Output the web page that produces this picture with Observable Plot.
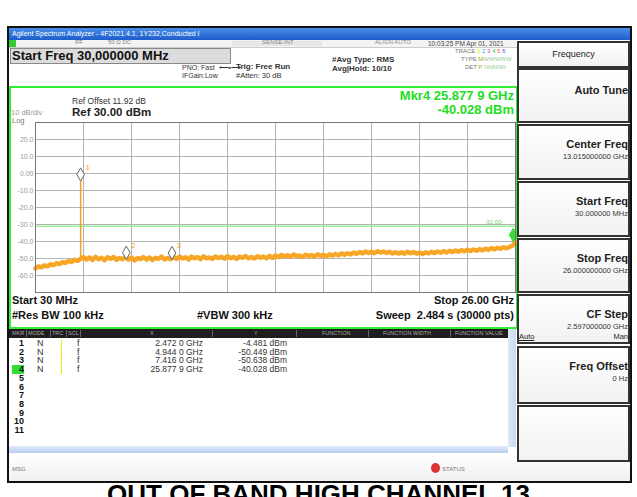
<!DOCTYPE html>
<html><head><meta charset="utf-8">
<script src="https://cdn.jsdelivr.net/npm/d3@7"></script>
<script src="https://cdn.jsdelivr.net/npm/@observablehq/plot@0.6"></script>
<style>
body{margin:0;background:#fff;}
#root{position:relative;width:637px;height:497px;overflow:hidden;font-family:"Liberation Sans",Arial,sans-serif;color:#111;}
.a{position:absolute;white-space:nowrap;}
.s{font-size:7px;color:#333;}
.g{color:#888;}
.b{font-weight:bold;}
.box{position:absolute;border:2px solid #333;background:linear-gradient(#fff,#f2f2f2);box-sizing:border-box;}
</style></head>
<body><div id="root"></div>
<script>
// ---- data ----
const startGHz = 0.03, stopGHz = 26.0;
const refLevel = 30, bottomLevel = -70;
const gridLevels = [30, 20, 10, 0, -10, -20, -30, -40, -50, -60, -70];
const tickLevels = [20, 10, 0, -10, -20, -30, -40, -50, -60];
const tickLabels = ["20.0", "10.0", "0.00", "-10.0", "-20.0", "-30.0", "-40.0", "-50.0", "-60.0"];
const displayLine = -31.0;
const displayLabel = "-31.00";
const markerIds = [1, 2, 3, 4];
const markerFreqs = [2.472, 4.944, 7.416, 25.8779];
const markerLevels = [-4.481, -50.449, -50.638, -40.028];
const markerFreqText = ["2.472 0 GHz", "4.944 0 GHz", "7.416 0 GHz", "25.877 9 GHz"];
const markerLevelText = ["-4.481 dBm", "-50.449 dBm", "-50.638 dBm", "-40.028 dBm"];
const traceLevels = [
 -55.8,-54.6,-55.2,-54.0,-54.6,-53.4,-53.9,-52.8,-53.3,-52.1,-52.6,-51.5,-52.0,-50.8,-51.4,-50.3,
 -49.2,-50.6,-49.4,-50.9,-49.0,-50.5,-49.6,-51.0,-49.3,-50.2,-49.1,-50.8,-49.7,-50.4,-49.0,-50.7,-49.5,-51.1,-49.8,-50.3,-49.2,-50.6,-49.4,-50.9,-49.6,-50.2,-48.9,-50.5,-49.7,-50.4,
 -49.1,-50.3,-48.8,-50.0,-49.3,-50.6,-48.9,-49.8,-49.2,-50.4,-48.7,-49.9,-49.4,-50.2,-48.8,-49.7,-49.0,-50.1,-48.6,-49.8,-49.1,-50.3,-48.9,-49.6,-48.5,-49.9,-49.2,-50.0,-48.7,-49.5,-48.9,-49.8,-48.4,-49.6,
 -48.3,-49.2,-47.9,-48.8,-48.1,-49.0,-47.7,-48.6,-48.2,-49.1,-47.8,-48.5,-48.0,-48.9,-47.6,-48.4,-47.9,-48.7,-47.5,-48.3,
 -47.4,-48.1,-47.0,-47.8,-46.9,-47.6,-46.5,-47.3,-46.2,-47.0,-45.9,-46.8,-46.0,-46.9,-45.7,-46.5,-45.9,-46.7,-46.1,-47.0,-46.3,-47.1,-46.4,-47.2,-46.0,
 -46.9,-46.2,-47.1,-46.5,-47.3,-46.4,-47.0,-46.1,-46.8,-45.9,-46.6,-45.7,-46.4,-45.5,-46.2,-45.3,-46.0,-45.1,-45.8,-44.9,-45.6,
 -44.7,-45.4,-44.5,-45.2,-44.2,-44.9,-43.9,-44.6,-43.7,-44.3,-43.4,-44.0,-43.2,-42.5,-40.0
];
const orange = "#f7a11a", green = "#33dd33";

// ---- build tables ----
const nPts = traceLevels.length;
const trace = traceLevels.map((v, i) => ({f: startGHz + i * (stopGHz - startGHz) / (nPts - 1), v}));
const gridFreqs = d3.range(11).map(k => startGHz + k * (stopGHz - startGHz) / 10);
const markers = markerIds.map((id, i) => ({id, f: markerFreqs[i], v: markerLevels[i]}));

const chart = Plot.plot({
  width: 507, height: 240,
  marginLeft: 25, marginRight: 2, marginTop: 35, marginBottom: 35,
  x: {domain: [startGHz, stopGHz], axis: null},
  y: {domain: [bottomLevel, refLevel], axis: null},
  style: {background: "transparent", fontFamily: "Liberation Sans, Arial, sans-serif", overflow: "visible"},
  marks: [
    Plot.ruleY(gridLevels, {stroke: "#b4b4b4", strokeWidth: 1}),
    Plot.ruleX(gridFreqs, {stroke: "#b4b4b4", strokeWidth: 1}),
    Plot.text(tickLevels, {y: d => d, frameAnchor: "left", dx: -2, textAnchor: "end", text: (d, i) => tickLabels[i], fill: "#9a9a9a", fontSize: 7}),
    Plot.ruleY([displayLine], {stroke: "#66ee66", strokeWidth: 1}),
    Plot.text([displayLine], {y: d => d, frameAnchor: "right", dx: -14, dy: -4, text: () => displayLabel, fill: "#7c7", fontSize: 6}),
    Plot.line(trace, {x: "f", y: "v", stroke: orange, strokeWidth: 4.5, strokeLinejoin: "round", strokeOpacity: 0.95}),
    Plot.ruleX([markers[0]], {x: "f", y1: -50, y2: "v", stroke: orange, strokeWidth: 1.5}),
    Plot.dot(markers, {x: "f", y: "v", symbol: "diamond", r: 4, dy: -6.6, fill: d => d.id === 4 ? green : "#fff", stroke: d => d.id === 4 ? green : "#666", strokeWidth: 1}),
    Plot.text(markers, {x: "f", y: "v", text: d => String(d.id), dx: 7, dy: -14, fill: orange, fontSize: 8}),
    Plot.frame({stroke: "#777"})
  ]
});

// ---- page chrome ----
const root = document.getElementById("root");
function add(html){ root.insertAdjacentHTML("beforeend", html); }

add(`<div class="a" style="left:7px;top:26px;width:625px;height:457px;border:2px solid #111;box-sizing:border-box;background:#fff"></div>`);
add(`<div class="a" style="left:9px;top:28px;width:621px;height:12px;background:linear-gradient(#4a8fe8,#1c5ccc);color:#fff;font-size:7px;line-height:12px;padding-left:3px;box-sizing:border-box">Agilent Spectrum Analyzer - 4F2021.4.1, 1Y232,Conducted I</div>`);
add(`<div class="a" style="left:9px;top:40px;width:508px;height:7px;background:#f4f4f4;border-bottom:1px solid #ccc"></div>`);
add(`<div class="a" style="left:9px;top:40px;width:7px;height:7px;background:#3c3"></div>`);
add(`<div class="a g" style="left:75px;top:39px;font-size:6px">RF</div>`);
add(`<div class="a g" style="left:108px;top:39px;font-size:6px">50 Ω  DC</div>`);
add(`<div class="a" style="left:232px;top:41px;width:90px;height:5px;background:#e6e6e6"></div>`);
add(`<div class="a g" style="left:262px;top:39px;font-size:6px">SENSE:INT</div>`);
add(`<div class="a g" style="left:375px;top:39px;font-size:6px">ALIGN AUTO</div>`);
add(`<div class="a s" style="left:428px;top:40px;font-size:6.5px;color:#444">10:03:25 PM Apr 01, 2021</div>`);
add(`<div class="a" style="left:10px;top:48px;width:221px;height:16px;background:#dcdcdc;border:1px solid #888;box-sizing:border-box"></div>`);
add(`<div class="a b" style="left:12px;top:48px;font-size:13px">Start Freq 30,000000 MHz</div>`);
add(`<div class="a s" style="left:182px;top:64px">PNO: Fast &nbsp;⟵•⟶</div>`);
add(`<div class="a s" style="left:182px;top:72px">IFGain:Low</div>`);
add(`<div class="a" style="left:236px;top:62px;font-size:8px;font-weight:bold;color:#333">Trig: Free Run</div>`);
add(`<div class="a" style="left:236px;top:71px;font-size:7.5px;color:#333">#Atten: 30 dB</div>`);
add(`<div class="a" style="left:332px;top:55px;font-size:8px;font-weight:bold;color:#333">#Avg Type: RMS</div>`);
add(`<div class="a" style="left:332px;top:64px;font-size:8px;font-weight:bold;color:#333">Avg|Hold: 10/10</div>`);
add(`<div class="a" style="left:455px;top:48px;font-size:6px;color:#777">TRACE <span style="color:#ee0;font-weight:bold">1</span> <span style="color:#0bd">2</span> <span style="color:#c3c">3</span> <span style="color:#3c3">4</span> <span style="color:#e55">5</span> <span style="color:#55e">6</span></div>`);
add(`<div class="a" style="left:461px;top:56px;font-size:6px;color:#777">TYPE <span style="color:#aa0">M</span><span style="color:#9c9">WWWWW</span></div>`);
add(`<div class="a" style="left:465px;top:64px;font-size:6px;color:#777">DET <span style="color:#aa0">P</span> <span style="color:#9c9">NNNNN</span></div>`);

// graph area
add(`<div class="a" style="left:9px;top:86px;width:509px;height:243px;border:2px solid #3e3;box-sizing:border-box"></div>`);
const holder = document.createElement("div");
holder.style.cssText = "position:absolute;left:10px;top:87px;";
holder.appendChild(chart);
root.appendChild(holder);
add(`<div class="a" style="left:72px;top:96px;font-size:8.5px;color:#333">Ref Offset 11.92 dB</div>`);
add(`<div class="a b" style="left:72px;top:106px;font-size:11.5px;color:#222">Ref 30.00 dBm</div>`);
add(`<div class="a" style="left:11px;top:109px;font-size:7.5px;line-height:8px;color:#999">10 dB/div</div>`);
add(`<div class="a" style="left:12px;top:117px;font-size:7.5px;line-height:8px;color:#777">Log</div>`);
add(`<div class="a b" style="right:123px;top:88px;font-size:13px;color:#2d2;text-align:right">Mkr4 25.877 9 GHz</div>`);
add(`<div class="a b" style="right:123px;top:102px;font-size:13px;color:#2d2;text-align:right">-40.028 dBm</div>`);
add(`<div class="a b" style="left:12px;top:294px;font-size:11px">Start 30 MHz</div>`);
add(`<div class="a b" style="left:12px;top:309px;font-size:11px">#Res BW 100 kHz</div>`);
add(`<div class="a b" style="left:197px;top:309px;font-size:11px">#VBW 300 kHz</div>`);
add(`<div class="a b" style="right:123px;top:294px;font-size:11px">Stop 26.00 GHz</div>`);
add(`<div class="a b" style="right:123px;top:309px;font-size:11px">Sweep &nbsp;2.484 s (30000 pts)</div>`);

// marker table
add(`<div class="a" style="left:9px;top:329px;width:499px;height:9px;background:#1e1e1e"></div>`);
const hdr = [["MKR",12],["MODE",28],["TRC",52],["SCL",68],["X",150],["Y",254],["FUNCTION",322],["FUNCTION WIDTH",383],["FUNCTION VALUE",455]];
hdr.forEach(([t,x]) => add(`<div class="a" style="left:${x}px;top:329px;font-size:5.5px;color:#aaa;line-height:9px">${t}</div>`));
[26,50,66,80,212,296,368,450].forEach(x => add(`<div class="a" style="left:${x}px;top:330px;width:1px;height:7px;background:#666"></div>`));
add(`<div class="a" style="left:508px;top:329px;width:8px;height:118px;background:linear-gradient(90deg,#dfe9f7,#c7d8f0)"></div>`);
add(`<div class="a" style="left:9px;top:446px;width:499px;height:7px;background:linear-gradient(#e0ebfa,#b9cff0)"></div>`);
for (let r = 0; r < 11; r++) {
  const y = 339 + r * 8.7;
  const num = r + 1;
  const bg = num === 4 ? "background:#3d3;" : "";
  add(`<div class="a" style="left:12px;top:${y}px;width:12px;text-align:right;font-size:9px;font-weight:bold;line-height:9px;${bg}">${num}</div>`);
  if (r < markers.length) {
    add(`<div class="a" style="left:37px;top:${y}px;font-size:9px;line-height:9px;color:#333">N</div>`);
    add(`<div class="a" style="left:61px;top:${y+1}px;width:1px;height:8px;background:#ee0"></div>`);
    add(`<div class="a" style="left:77px;top:${y}px;font-size:9px;line-height:9px;color:#333">f</div>`);
    add(`<div class="a" style="right:434px;top:${y}px;font-size:8.5px;line-height:9px;color:#333;text-align:right">${markerFreqText[r]}</div>`);
    add(`<div class="a" style="right:350px;top:${y}px;font-size:8.5px;line-height:9px;color:#333;text-align:right">${markerLevelText[r]}</div>`);
  }
}
add(`<div class="a" style="left:9px;top:455px;width:621px;height:26px;background:linear-gradient(#fff,#f0f0f0)"></div>`);
add(`<div class="a" style="left:12px;top:466px;font-size:6px;color:#777">MSG</div>`);
add(`<div class="a" style="left:431px;top:463px;width:9px;height:10px;border-radius:50%;background:#d33"></div>`);
add(`<div class="a" style="left:442px;top:466px;font-size:6px;color:#777">STATUS</div>`);

// right soft-key panel
const keys = [
  {top:41, h:27, title:"Frequency", val:null, center:true},
  {top:68, h:55, title:"Auto Tune", val:null},
  {top:124, h:56, title:"Center Freq", val:"13.015000000 GHz"},
  {top:181, h:56, title:"Start Freq", val:"30.000000 MHz"},
  {top:238, h:55, title:"Stop Freq", val:"26.000000000 GHz"},
  {top:294, h:50, title:"CF Step", val:"2.597000000 GHz", am:true},
  {top:346, h:58, title:"Freq Offset", val:"0 Hz"},
  {top:405, h:57, title:"", val:null}
];
keys.forEach(k => {
  add(`<div class="box" style="left:517px;top:${k.top}px;width:113px;height:${k.h}px"></div>`);
  if (k.center) add(`<div class="a" style="left:517px;top:${k.top+8}px;width:113px;text-align:center;font-size:9px;color:#222">${k.title}</div>`);
  else if (k.title) {
    const ty = k.val ? k.top + 14 : k.top + 16;
    add(`<div class="a" style="right:9px;top:${ty}px;text-align:right;font-size:11px;font-weight:bold;color:#222">${k.title}</div>`);
    if (k.val) add(`<div class="a" style="right:9px;top:${ty+14}px;text-align:right;font-size:7.5px;color:#333">${k.val}</div>`);
    if (k.am) {
      add(`<div class="a" style="left:519px;top:${ty+24}px;font-size:7.5px;color:#222;text-decoration:underline">Auto</div>`);
      add(`<div class="a" style="right:9px;top:${ty+24}px;font-size:7.5px;color:#222">Man</div>`);
    }
  }
});

// caption
add(`<div class="a b" style="left:0;width:637px;top:479px;text-align:center;font-size:26px;line-height:30px;font-family:'Liberation Sans',Arial,sans-serif;color:#000">OUT OF BAND HIGH CHANNEL 13</div>`);
</script>
</body></html>
